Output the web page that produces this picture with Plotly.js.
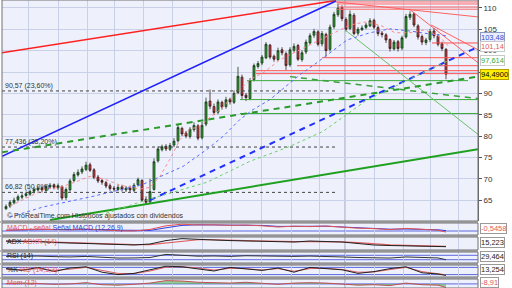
<!DOCTYPE html>
<html><head><meta charset="utf-8">
<script src="https://cdn.plot.ly/plotly-3.0.1.min.js"></script>
<style>html,body{margin:0;padding:0;background:#fff;}#chart{width:512px;height:288px;}</style>
</head><body><div id="chart"></div>
<script>
// ---- price bars (index positions) ----
const barX = [1,2,3,4,5,6,7,8,9,10,11,12,13,14,15,16,17,18,19,20,21,22,23,24,25,26,27,28,29,30,31,32,33,34,35,36,37,38,39,40,41,42,43,44,45,46,47,48,49,50,51,52,53,54,55,56,57,58,59,60,61,62,63,64,65,66,67,68,69,70,71,72,73,74,75,76,77,78,79,80,81,82,83,84,85,86,87,88,89,90,91,92,93,94,95,96,97,98,99,100,101,102,103,104,105,106,107,108,109,110,111];
const openP = [63.0,63.6,64.4,65.1,65.7,66.1,66.4,67.1,67.4,67.9,67.3,68.1,68.6,67.9,68.2,65.6,67.4,69.6,70.9,71.6,72.2,73.3,72.1,70.4,69.6,69.1,68.4,67.8,67.5,68.1,67.4,67.9,67.3,68.6,69.6,65.2,64.6,67.5,74.2,76.8,77.6,76.9,77.9,78.9,81.8,80.7,79.9,81.5,82.4,79.6,82.8,88.2,86.9,85.6,87.9,86.9,88.6,87.9,90.2,93.8,89.6,88.8,93.2,96.3,97.1,98.3,101.3,98.7,97.9,100.2,99.3,96.7,100.1,101.2,97.9,99.7,101.8,103.6,104.4,101.6,103.8,100.3,105.6,108.4,110.1,107.3,105.2,108.3,104.1,104.9,105.4,105.8,107.1,105.4,104.1,103.7,102.6,100.4,102.1,100.6,103.2,107.8,108.6,105.8,103.3,101.9,102.6,104.6,103.4,101.6,100.3];
const highP = [64.0,65.0,65.6,66.3,66.6,67.0,67.5,68.0,68.4,68.2,68.8,69.0,68.9,68.9,68.5,68.0,70.0,71.6,72.2,72.9,74.0,73.8,72.5,70.9,70.0,69.5,68.9,68.3,68.6,68.6,68.3,68.4,69.0,70.3,69.9,65.9,70.0,74.8,77.6,78.0,78.1,78.4,79.5,82.6,82.2,81.2,82.1,83.2,82.8,83.3,89.0,90.9,87.6,88.6,88.3,89.2,89.0,90.7,96.2,94.4,90.1,93.6,97.0,97.6,99.0,102.0,101.6,99.1,100.7,100.8,99.8,100.8,101.7,101.6,100.1,102.6,104.1,105.1,104.8,104.6,104.2,106.1,109.1,111.0,110.6,107.8,109.4,108.8,105.5,105.9,106.5,107.6,107.5,105.9,104.6,104.1,102.9,102.5,102.5,103.5,108.6,109.2,108.9,106.2,103.8,103.0,105.1,105.3,103.9,102.1,100.6];
const lowP = [62.7,63.2,64.0,64.7,65.2,65.6,66.0,66.6,67.0,66.8,66.9,67.6,67.5,67.4,65.0,65.0,67.0,69.2,70.5,71.1,71.8,71.6,69.9,69.0,68.6,67.8,67.2,67.0,67.1,67.0,66.9,66.9,66.9,68.2,64.6,64.0,64.2,67.2,73.8,76.4,76.5,76.5,77.4,78.5,80.0,79.5,79.4,81.0,79.0,79.2,82.3,86.3,84.9,85.1,86.2,86.4,87.4,87.5,89.8,88.6,88.2,88.4,92.8,95.8,96.6,98.0,98.0,97.4,97.6,98.9,95.5,96.2,99.6,97.6,97.4,99.2,101.4,103.0,101.0,101.0,98.6,99.8,105.1,107.9,106.9,104.5,104.8,103.6,103.5,104.6,105.0,105.5,105.0,103.4,103.1,101.8,99.8,100.0,99.8,100.1,102.8,107.2,105.5,102.6,101.3,101.3,102.0,102.9,101.0,99.9,93.3];
const closeP = [63.5,64.5,65.0,65.8,66.0,66.5,67.0,67.5,67.8,67.4,68.2,68.5,68.0,68.4,65.5,67.5,69.5,71.0,71.5,72.3,73.2,72.0,70.3,69.5,69.2,68.3,67.7,67.6,68.0,67.5,67.8,67.4,68.5,69.8,65.0,64.5,67.0,74.0,77.0,77.5,77.0,77.8,78.8,82.0,80.5,80.0,81.6,82.5,79.5,82.5,88.0,87.0,85.5,88.0,86.8,88.5,88.0,90.0,94.0,89.5,89.0,93.0,96.5,97.0,98.5,101.5,98.5,98.0,100.0,99.5,96.5,100.2,101.0,98.0,99.5,102.0,103.5,104.5,101.5,104.0,100.0,105.5,108.5,110.0,107.5,105.0,108.5,104.0,105.0,105.3,106.0,107.0,105.5,104.0,103.8,102.5,100.5,102.0,100.5,103.0,108.0,108.5,106.0,103.2,102.0,102.5,104.5,103.5,101.5,100.5,94.49];

// ---- moving averages ----
const maRedX = [2,7,10.75,14.5,18.25,22,25.75,29.5,34.5,37,39.5,42,44.5,47,49.5,52,54.5,58.25,62,65.75,69.5,74.5,79.5,83.25,87,90.75,94.5,98.25,102,105.75,109.5,111.5];
const maRedY = [63.6,65.9,67.6,68.0,69.2,70.6,69.9,68.5,67.6,68.0,70.6,74.6,79.2,81.6,82.3,84.4,86.2,89.7,93.2,95.1,97.9,100.2,102.5,104.4,106.0,106.7,106.0,104.2,104.2,104.9,103.2,101.14];
const maBlueX = [2,10.25,22.75,35.25,45.25,51.25,55.25,59.5,62.75,67,74.5,78.75,86.25,92,97,102,107,111.5];
const maBlueY = [61.05,63.4,65.9,68.7,72.9,76.9,79.9,83.9,86.2,88.55,94.4,97.2,102.5,104.2,105.1,104.6,103.9,103.48];
const maGreenX = [20.25,27,34.5,43.25,51.25,62,72,80.25,86,91,102.75,111.5];
const maGreenY = [60.35,62.2,64.55,66.9,69.2,74.1,77.6,81.1,85.06,88.3,93.7,97.614];

// ---- drawn trend lines (endpoints) ----
const redTrendX = [0, 83.5], redTrendY = [99.5, 111.75];
const blueTrendX = [0, 83.5], blueTrendY = [75.27, 111.63];
const blueDashX = [37, 119], blueDashY = [65.0, 100.9];
const greenSolidX = [12, 119], greenSolidY = [60.35, 76.9];
const greenDashAX = [0, 119], greenDashAY = [76.2, 93.92];
const greenDashBX = [72, 119], greenDashBY = [93.92, 88.79];
const greenThinX = [85.75, 119], greenThinY = [104.87, 80.4];
const redFanX = [83.5, 119], redFanY = [111.4, 107.9];
const redSteepX = [101.75, 119], redSteepY = [109.77, 97.18];
const redShortX = [107.25, 119], redShortY = [106.04, 100.21];
const topRedLevels = [111.4, 110.93, 110.23, 109.7];
const topRedStart = 83.75;
const redLevels = [101.8, 98.35, 96.48, 95.31, 94.62];
const redLevelStart = [107.5, 80, 73.75, 63.5, 63.5];
const greenLevels = [92.98, 88.55, 85.29];
const greenLevelStart = [61.25, 59.5, 59.5];
const greenLevelEnd = [116.5, 119, 119];
const rightEdge = 119;

// Fibonacci retracement levels
const fibLevels = [90.57, 77.436, 66.82];
const fibLabels = ['90,57 (23,60%)', '77,436 (38,20%)', '66,82 (50,0%)'];
const fibEnd = 83.25;

// grid (month) positions & price ticks (95 is hidden behind the last-price box)
const monthTicks = [6.5,14,21.25,28,35.25,42.5,50,57.25,64.75,72.25,79.25,85.75,93,100.25,107,114];
const priceTicks = [65,70,75,80,85,90,95,100,105,110];
const priceTickText = ['65','70','75','80','85','90','','100','105','110'];

// ---- indicators ----
const indX = [1,5,9,13,17,21,25,29,33,37,41,45,49,53,57,61,65,69,73,77,81,85,89,93,97,101,105,109,111];
const macdLine = [0.3,0.8,1.0,0.7,0.6,1.0,0.5,0.1,0.0,0.8,2.6,3.4,3.0,3.1,2.8,3.0,2.6,2.0,2.4,2.2,2.5,1.8,1.4,1.2,0.7,1.3,0.8,0.4,-0.5458];
const macdSignal = [0.4,0.6,0.8,0.8,0.7,0.8,0.7,0.4,0.2,0.3,1.6,2.8,3.1,3.1,2.9,2.9,2.8,2.3,2.3,2.3,2.4,2.0,1.6,1.3,0.9,1.0,0.9,0.6,0.2];
const adx = [32.7,32.5,31,28,26.5,25,23.5,20.4,20.5,23.5,34,40,37,35.8,34,32.7,32.7,31,29.6,32.7,31,29.6,25,20.4,18.8,17.3,17.3,15.8,15.223];
const adxr = [31.5,32,31.5,29.5,27.5,26,24.5,22.5,21.5,21.5,27,33,36.5,36.5,35,33.5,32.5,31.5,30.5,31,31,30,27.5,23.5,21,19,18,16.5,16];
const rsi = [60,62,63,58,55,60,52,45,46,50,78,68,62,64,60,66,62,58,60,63,62,55,50,48,45,55,48,46,29.464];
const stochK = [70,55,80,45,75,85,40,20,30,60,90,85,70,50,80,65,55,75,40,80,70,60,30,45,70,85,35,25,13.254];
const stochD = [65,60,70,55,65,80,55,30,28,50,82,86,75,58,72,70,58,70,48,70,72,63,40,42,62,80,45,30,18];
const mom = [1,2,1,-1,0,3,-2,-3,-1,2,8,7,4,3,2,4,1,-1,2,3,2,-1,-3,-2,-4,2,-2,-3,-8.91];

// ---------- build ----------
const FONT = 'Liberation Sans, Arial, sans-serif';
function hseg(starts, ends, levels){
  const x=[], y=[];
  levels.forEach((v,i)=>{ x.push(starts[i], ends[i], null); y.push(v, v, null); });
  return {x, y};
}
function line(x, y, color, width, dash, yaxis){
  return {type:'scatter', mode:'lines', x, y, xaxis:'x', yaxis:yaxis||'y',
    line:{color, width, dash:dash||'solid'}, hoverinfo:'skip', showlegend:false};
}
const fib = hseg(fibLevels.map(()=>0), fibLevels.map(()=>fibEnd), fibLevels);
const topRed = hseg(topRedLevels.map(()=>topRedStart), topRedLevels.map(()=>rightEdge), topRedLevels);
const redH = hseg(redLevelStart, redLevels.map(()=>rightEdge), redLevels);
const greenH = hseg(greenLevelStart, greenLevelEnd, greenLevels);

const traces = [
  line(fib.x, fib.y, '#444', 1, 'dot'),
  line(topRed.x, topRed.y, '#ff6a6a', 1),
  line(redH.x, redH.y, '#ff5050', 1),
  line(greenH.x, greenH.y, '#3caa3c', 1),
  line(redFanX, redFanY, '#ff6060', 1),
  line(redSteepX, redSteepY, '#ff6060', 1),
  line(redShortX, redShortY, '#ff6060', 1),
  line(greenThinX, greenThinY, '#6abf6a', 1),
  line(redTrendX, redTrendY, '#ff2020', 1.6),
  line(blueTrendX, blueTrendY, '#2020ff', 1.6),
  line(greenDashAX, greenDashAY, '#2a9a2a', 2, '6px,5px'),
  line(greenDashBX, greenDashBY, '#3aa03a', 1.5, '6px,5px'),
  line(blueDashX, blueDashY, '#2030ff', 2, '6px,5px'),
  line(greenSolidX, greenSolidY, '#20a020', 2),
  line(maRedX, maRedY, '#ff8a8a', 1, 'dot'),
  line(maBlueX, maBlueY, '#5a6aff', 1, 'dot'),
  line(maGreenX, maGreenY, '#6ad06a', 1, 'dot'),
  {type:'candlestick', x:barX, open:openP, high:highP, low:lowP, close:closeP,
   xaxis:'x', yaxis:'y', whiskerwidth:0, hoverinfo:'skip', showlegend:false,
   increasing:{line:{color:'#1c3a1c', width:0.8}, fillcolor:'#2f9a2f'},
   decreasing:{line:{color:'#3a1c1c', width:0.8}, fillcolor:'#c84040'}},
  // indicators
  line(indX, macdSignal, '#3040e0', 1, 'solid', 'y2'),
  line(indX, macdLine, '#e05050', 1, 'solid', 'y2'),
  line(indX, adxr, '#e06060', 1.2, 'solid', 'y3'),
  line(indX, adx, '#222', 1, 'solid', 'y3'),
  line(indX, rsi, '#333', 1, 'solid', 'y4'),
  line(indX, stochD, '#e06060', 1, 'solid', 'y5'),
  line(indX, stochK, '#222', 1, 'solid', 'y5'),
  {type:'scatter', mode:'lines', x:indX, y:mom, xaxis:'x', yaxis:'y6', fill:'tozeroy',
   fillcolor:'rgba(90,180,90,0.6)', line:{color:'#c05050', width:1}, hoverinfo:'skip', showlegend:false}
];

// panel domains in pixels (top, bottom)
const H = 288;
const panels = [[0,221],[223,235],[237,250],[252,263],[265,277],[279,288]];
const dom = panels.map(p=>[1-p[1]/H, 1-p[0]/H]);

const shapes = [];
for (let i=0;i<panels.length-1;i++){
  shapes.push({type:'rect', xref:'paper', yref:'paper', x0:-0.005, x1:1, y0:dom[i+1][1], y1:dom[i][0],
    fillcolor:'#b8b8b8', line:{width:0}, layer:'above'});
}
dom.forEach(d=>{
  shapes.push({type:'rect', xref:'paper', yref:'paper', x0:0, x1:1, y0:d[0], y1:d[1],
    fillcolor:'rgba(0,0,0,0)', line:{color:'#707070', width:1}, layer:'above'});
});
shapes.push({type:'line', xref:'x', yref:'paper', x0:85.75, x1:85.75, y0:0, y1:1, line:{color:'#9aa3bd', width:1}, layer:'below'});
const lvl = (yref, v)=>({type:'line', xref:'paper', yref, x0:0, x1:1, y0:v, y1:v, line:{color:'#5a68e0', width:1}, layer:'below'});
shapes.push(lvl('y2',0), lvl('y4',30), lvl('y4',70), lvl('y5',20), lvl('y5',80), lvl('y6',0));

const ann = [];
fibLevels.forEach((v,i)=>ann.push({xref:'x', yref:'y', x:0.3, y:v, xanchor:'left', yanchor:'bottom',
  text:fibLabels[i], showarrow:false, font:{family:FONT, size:7, color:'#333'}, yshift:-1}));
ann.push({xref:'paper', yref:'paper', x:0.006, y:1-216/H, xanchor:'left', yanchor:'middle', showarrow:false,
  text:'© ProRealTime.com Históricos ajustados con dividendos', font:{family:FONT, size:7, color:'#333'}});
const panelLabels = [
  ['<span style="color:#e05a5a">MACD - señal</span> <span style="color:#3040d0">Señal MACD (12,26,9)</span>', 228],
  ['<span style="color:#222">ADX</span> <span style="color:#e05a5a">ADXR (14)</span>', 242],
  ['<span style="color:#222">RSI (14)</span>', 256],
  ['<span style="color:#222">%K</span> <span style="color:#e05a5a">%D (14,3,3)</span>', 270],
  ['<span style="color:#e05a5a">Mom (12)</span>', 283]
];
panelLabels.forEach(p=>ann.push({xref:'paper', yref:'paper', x:0.006, y:1-p[1]/H, xanchor:'left', yanchor:'middle',
  showarrow:false, text:p[0], font:{family:FONT, size:7}}));
const boxes = [
  ['103,48', 'y', 103.48, '#3050d0', '#e9eeff', '#8e9ac0', -1.5],
  ['101,14', 'y', 101.14, '#e05a5a', '#ffffff', '#c8c8c8', -1],
  ['97,614', 'y', 97.614, '#3aaa3a', '#ffffff', '#c8c8c8', 0],
  ['94,4900', 'y', 94.49, '#000000', '#ffee00', '#b8a000', 0],
  ['-0,5458', 'paper', 1-228/H, '#e05a5a', '#ffffff', '#999', 0],
  ['15,223', 'paper', 1-242/H, '#222', '#ffffff', '#999', 0],
  ['29,464', 'paper', 1-256/H, '#222', '#ffffff', '#999', 0],
  ['13,254', 'paper', 1-269/H, '#222', '#ffffff', '#999', 0],
  ['-8,91', 'paper', 1-282/H, '#e05a5a', '#ffffff', '#999', 0]
];
boxes.forEach(b=>ann.push({xref:'paper', yref:b[1], x:1, y:b[2], xanchor:'left', yanchor:'middle', xshift:2, yshift:b[6],
  text:b[0], showarrow:false, font:{family:FONT, size:7.5, color:b[3]}, bgcolor:b[4], bordercolor:b[5], borderwidth:1, borderpad:0}));

const noAxis = (d)=>({domain:d, showgrid:false, zeroline:false, showticklabels:false, ticks:'', fixedrange:true, anchor:'x'});
const layout = {
  width:512, height:288, margin:{l:2, r:34, t:0, b:0},
  paper_bgcolor:'#ffffff', plot_bgcolor:'#eef1fb',
  showlegend:false, font:{family:FONT},
  xaxis:{range:[0,119], domain:[0,1], tickmode:'array', tickvals:monthTicks, showticklabels:false, ticks:'',
    showgrid:true, gridcolor:'#c9d1e8', gridwidth:1, zeroline:false, showline:false, rangeslider:{visible:false}, fixedrange:true, anchor:'y6'},
  yaxis:{domain:dom[0], range:[60.12,111.86], side:'right', anchor:'x', tickmode:'array', tickvals:priceTicks, ticktext:priceTickText,
    ticks:'outside', ticklen:3, tickcolor:'#555', tickfont:{family:FONT, size:8, color:'#333'},
    showgrid:true, gridcolor:'#c9d1e8', zeroline:false, showline:true, linecolor:'#666', fixedrange:true},
  yaxis2:Object.assign(noAxis(dom[1]), {range:[-2,4]}),
  yaxis3:Object.assign(noAxis(dom[2]), {range:[5,45]}),
  yaxis4:Object.assign(noAxis(dom[3]), {range:[0,100]}),
  yaxis5:Object.assign(noAxis(dom[4]), {range:[0,100]}),
  yaxis6:Object.assign(noAxis(dom[5]), {range:[-10,12]}),
  shapes, annotations:ann
};
Plotly.newPlot('chart', traces, layout, {staticPlot:true, displayModeBar:false});
</script></body></html>
